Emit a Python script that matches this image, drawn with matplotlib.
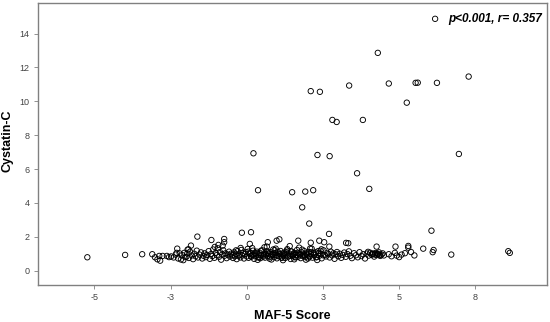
import matplotlib
matplotlib.use("Agg")
import matplotlib.pyplot as plt

plt.rcParams['font.family'] = ['Liberation Sans', 'DejaVu Sans']
plt.rcParams['axes.unicode_minus'] = False

# values
# main band, Cystatin-C around 1
score_band = [
    -3.10, -3.01, -2.93, -2.84, -2.87, -2.76, -2.62, -2.55, -2.48, -2.40,
    -2.33, -2.30, -2.25, -2.20, -2.16, -2.12, -2.08, -2.05, -2.02, -2.28,
    -1.94, -1.91, -1.83,
    -1.98, -1.95, -1.90, -1.86, -1.80, -1.76, -1.72, -1.68, -1.64, -1.60,
    -1.55, -1.50, -1.46, -1.42, -1.38, -1.34, -1.30, -1.25, -1.21, -1.17,
    -1.13, -1.10, -1.06, -1.02, -0.98, -0.95, -0.91, -0.88, -0.84, -0.80,
    -0.77, -0.73, -0.70, -0.66, -0.62, -0.58, -0.55, -0.52, -1.05, -0.93,
    -0.48, -0.45, -0.42, -0.39, -0.36, -0.33, -0.30, -0.27, -0.24, -0.21,
    -0.18, -0.15, -0.12, -0.09, -0.06, -0.03, 0.00, 0.03, 0.06, 0.09,
    0.12, 0.15, 0.18, 0.21, 0.24, 0.27, 0.30, 0.33, 0.36, 0.39,
    0.42, 0.45, 0.48, 0.51, 0.54, 0.57, 0.60, 0.63, 0.66, 0.69,
    0.72, 0.75, 0.78, 0.81, 0.84, 0.87, 0.90, 0.93, 0.96, 0.99,
    1.02, 1.05, 1.08, 1.11, 1.14, 1.17, 1.20, 1.23, 1.26, 1.29,
    1.32, 1.35, 1.38, 1.41, 1.44, 1.47, 1.50, 1.53, 1.56, 1.59,
    1.62, 1.65, 1.68, 1.71, 1.74, 1.77, 1.80, 1.83, 1.86, 1.89,
    1.92, 1.95, 1.98, 2.01, 2.04, 2.07, 2.10, 2.13, 2.16, 2.19,
    0.05, 0.14, 0.22, 0.31, 0.40, 0.47, 0.55, 0.62, 0.70, 0.77,
    0.85, 0.92, 1.00, 1.07, 1.15, 1.22, 1.30, 1.37, 1.45, 1.52,
    1.60, 1.67, 1.75, 1.82, 1.90, 1.97, 2.05, 2.12, 2.20, 2.27,
    2.35, 2.42, 2.50, 0.18, 0.58, 0.95, 1.33, 1.72, 2.08, 2.45,
    0.36, 0.81, 1.19, 1.56, 1.94, 2.31, -0.20, -0.35, 0.66, 1.41,
    2.22, 2.26, 2.30, 2.34, 2.38, 2.42, 2.46, 2.52, 2.56, 2.60,
    2.64, 2.68, 2.72, 2.76, 2.80, 2.84, 2.88, 2.92, 2.96, 3.00,
    3.05, 3.10, 3.15, 3.20, 3.25, 3.30, 3.35, 3.40, 3.45, 3.52,
    3.58, 3.64, 3.70, 3.76, 3.82, 3.88, 3.94, 4.00, 4.05, 4.10,
    4.14, 4.18, 4.22, 4.26, 4.30, 4.34, 4.38, 4.42, 4.46, 4.50,
    4.20, 4.28, 4.36, 3.98, 4.12,
    4.66, 4.75, 4.86, 4.88, 4.92, 5.00, 5.08, 5.19, 5.30, 5.30,
    5.39, 5.50, 5.79, 6.10, 6.13, 6.71,
    -5.23, -3.99, -3.43, 8.58, 8.63,
]
cys_band = [
    0.97, 0.79, 0.67, 0.59, 0.87, 0.87, 0.87, 0.80, 0.84, 0.78,
    0.95, 1.05, 0.72, 1.02, 0.66, 0.92, 0.62, 1.05, 0.80, 1.30,
    1.24, 1.26, 1.48,
    0.82, 1.02, 0.75, 1.12, 0.90, 0.68, 1.00, 0.85, 1.18, 0.78,
    0.95, 1.08, 0.72, 0.88, 1.02, 0.80, 0.93, 1.15, 0.70, 0.98,
    0.86, 1.25, 0.76, 1.05, 0.92, 1.32, 0.82, 1.10, 0.65, 0.97,
    1.20, 0.88, 1.02, 0.74, 0.94, 1.12, 0.83, 1.00, 1.40, 1.52,
    0.92, 0.75, 1.08, 0.85, 1.00, 0.68, 1.15, 0.88, 0.95, 0.78,
    1.22, 0.90, 1.03, 0.72, 0.97, 1.10, 0.84, 1.28, 0.76, 0.99,
    1.05, 0.82, 0.93, 1.18, 0.70, 1.01, 0.87, 1.12, 0.79, 0.96,
    1.06, 0.74, 0.91, 1.20, 0.83, 1.02, 0.77, 0.94, 1.14, 0.86,
    1.00, 0.71, 1.09, 0.89, 0.98, 1.25, 0.80, 1.04, 0.92, 0.73,
    1.11, 0.85, 0.97, 1.16, 0.78, 1.01, 0.88, 1.07, 0.75, 0.95,
    1.19, 0.83, 1.03, 0.90, 0.69, 1.13, 0.86, 0.99, 1.05, 0.79,
    0.94, 1.22, 0.82, 1.00, 0.91, 0.74, 1.08, 0.87, 0.96, 1.15,
    0.80, 1.02, 0.93, 0.72, 1.10, 0.85, 0.98, 1.30, 0.77, 1.04,
    1.12, 0.86, 0.95, 1.03, 0.78, 1.18, 0.90, 0.99, 1.07, 0.82,
    0.94, 1.21, 0.87, 1.01, 0.76, 0.97, 1.09, 0.84, 1.14, 0.92,
    0.80, 1.05, 0.96, 1.24, 0.88, 1.00, 0.83, 1.10, 0.94, 0.79,
    1.03, 1.17, 0.91, 1.33, 1.38, 1.30, 1.27, 1.36, 1.31, 1.26,
    0.64, 0.66, 0.62, 0.67, 0.65, 0.63, 1.34, 1.20, 1.42, 1.45,
    0.95, 1.08, 0.80, 1.15, 0.88, 1.00, 0.73, 1.20, 0.92, 0.84,
    1.05, 0.97, 0.78, 1.12, 0.90, 1.02, 0.70, 0.96, 1.10, 0.85,
    1.00, 0.76, 0.93, 1.07, 0.82, 0.98, 1.14, 0.88, 0.74, 1.03,
    0.91, 0.79, 1.09, 0.86, 0.97, 0.72, 1.01, 0.89, 1.06, 0.94,
    1.00, 0.83, 1.04, 0.92, 0.98, 1.08, 0.87, 0.95, 1.02, 0.90,
    0.96, 1.01, 0.93, 1.11, 0.99,
    0.97, 0.85, 1.05, 1.42, 0.89, 0.80, 0.95, 1.03, 1.46, 1.36,
    1.10, 0.90, 1.30, 1.09, 1.22, 0.95,
    0.79, 0.93, 0.97, 1.15, 1.05,
]

# points above the band
score_high = [6.18, 4.30, 2.10, 2.40, 3.36, 4.66, 5.54, 5.61, 6.24, 7.28,
              5.25, 2.81, 2.95, 3.81, 2.32, 2.72, 6.96, 0.22, 3.62, 0.37,
              1.49, 1.92, 2.18, 4.02, 1.82, 2.05, 2.70, 6.06, -0.16, 0.14,
              -1.62, -1.16, -0.74, -0.74, -0.79, 0.10, 0.69, 0.98, 1.07, 1.69,
              2.10, 2.38, 2.54, 2.71, 3.26, 3.33, 4.26]
cys_high = [14.87, 12.86, 10.60, 10.56, 10.93, 11.05, 11.09, 11.10, 11.09, 11.46,
            9.92, 8.90, 8.78, 8.90, 6.83, 6.76, 6.89, 6.93, 5.75, 4.75,
            4.63, 4.67, 4.75, 4.83, 3.74, 2.78, 2.17, 2.36, 2.24, 2.27,
            2.01, 1.81, 1.87, 1.68, 1.48, 1.58, 1.68, 1.77, 1.85, 1.77,
            1.65, 1.77, 1.68, 1.42, 1.64, 1.62, 1.42]

x_ticks = [-5, -2.5, 0, 2.5, 5, 7.5]
x_tick_labels = ['-5', '-3', '0', '3', '5', '8']
y_ticks = [0, 2, 4, 6, 8, 10, 12, 14]

score = score_band + score_high
cys = cys_band + cys_high

fig = plt.figure(figsize=(5.5, 3.22), dpi=100)
ax = fig.add_axes([0.069, 0.115, 0.9255, 0.876])

ax.scatter(score, cys, s=15, facecolors='none', edgecolors='black',
           linewidths=0.65)

ax.set_xlim(-6.85, 9.85)
ax.set_ylim(-0.845, 15.81)
ax.set_xticks(x_ticks)
ax.set_xticklabels(x_tick_labels)
ax.set_yticks(y_ticks)

for s in ax.spines.values():
    s.set_color('#808080')
    s.set_linewidth(1.0)
ax.tick_params(axis='both', length=3, width=0.6, color='#808080',
               labelsize=6.5, labelcolor='#444444', pad=3)

# axis titles placed by hand so they stay inside the small canvas
fig.text(292 / 550, 1 - 316 / 322, 'MAF-5 Score', fontsize=9,
         fontweight='bold', ha='center', va='center')
fig.text(8 / 550, 1 - 141 / 322, 'Cystatin-C', fontsize=9,
         fontweight='bold', ha='center', va='center', rotation=90)

ax.text(0.99, 0.943, 'p<0.001, r= 0.357', transform=ax.transAxes,
        ha='right', va='center', fontsize=8.5, fontweight='bold',
        fontstyle='italic')

fig.savefig('out.png', dpi=100)
